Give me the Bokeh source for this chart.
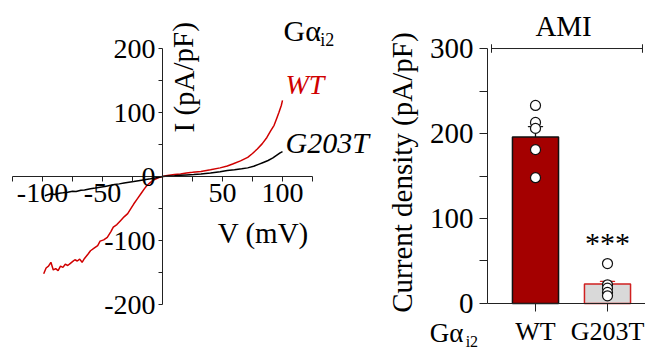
from bokeh.plotting import figure
from bokeh.layouts import row
from bokeh.models import FixedTicker, ColumnDataSource
from bokeh.core.properties import value
from bokeh.embed import file_html
from bokeh.resources import INLINE

FONT = "Liberation Serif"

# ---------------- data: I-V curves ----------------
wt_v = [-99, -97, -95, -93, -91, -89, -87, -85, -83, -81, -79, -77, -75, -73, -71, -69, -67,
        -65, -62, -60, -57, -54, -52, -49, -46, -43, -41, -38, -35, -32, -29, -26, -24, -21,
        -18, -15, -13, -10, -7, -4, -2, 0, 4, 10, 15, 20, 25, 32, 40, 48, 54, 59, 65, 71, 75,
        79, 83, 87, 90, 93, 95, 97, 99, 100]
wt_i = [-152, -143, -140, -134, -146, -144, -147, -140, -142, -137, -139, -136, -133, -130, -132, -129, -134,
        -128, -121, -116, -112, -108, -101, -99, -95, -86, -79, -75, -69, -63, -58, -49, -43, -35,
        -27, -19, -14, -9, -5, -2.5, -1, 0, 1.5, 3, 4, 5.5, 6.5, 8, 10.5, 13.5, 16.5, 20, 24.5, 30, 36,
        43, 51, 61, 71, 80, 90, 100, 111, 119]

g_v = [-98, -95, -93, -90, -86, -83, -79, -75, -72, -68, -65, -60, -56, -52, -48, -44, -40, -36,
       -32, -28, -24, -20, -15, -10, -5, 0, 5, 10, 15, 20, 26, 32, 40, 48, 54, 60, 66, 71, 76,
       80, 84, 88, 92, 95, 98, 100]
g_i = [-30, -28, -27, -28, -26, -25.5, -24.5, -23, -23.5, -21.5, -21, -19, -18, -16.7, -15.5, -14, -12.5, -11.5,
       -10, -8.8, -7.8, -6.5, -5, -3.6, -1.8, 0, 0.7, 1.3, 2, 2.5, 3, 4, 5.5, 7.5, 9.4, 10.5, 12, 13.5, 16,
       19, 22, 25, 29, 33, 37, 39]

iv_x_ticks = [-100, -50, 50, 100]
iv_x_minor = [-125, -75, -25, 0, 25, 75, 125]
iv_x_labels = ["-100", "-50", "50", "100"]
iv_y_ticks = [-200, -100, 0, 100, 200]
iv_y_minor = [-150, -50, 50, 150]
iv_y_labels = ["-200", "-100", "0", "100", "200"]

# ---------------- data: current density bars ----------------
categories = ["WT", "G203T"]
cat_x = [1, 2]
means = [196, 23]
sems = [12, 3]
wt_points = [233, 213, 206, 181, 148]
g203t_points = [47, 22, 18, 13, 9]
bar_y_ticks = [0, 100, 200, 300]
bar_y_minor = [50, 150, 250]
bar_y_labels = ["0", "100", "200", "300"]

RED = "#d00000"
DARKRED = "#a40000"

# ======================= left panel =======================
p1 = figure(width=375, height=351, x_range=(-135, 177.5), y_range=(-273.4, 275),
            output_backend="svg", toolbar_location=None, min_border=0)
p1.outline_line_color = None
p1.grid.visible = False
p1.background_fill_color = "white"

p1.line(wt_v, wt_i, color=RED, line_width=1.5)
p1.line(g_v, g_i, color="black", line_width=1.5)

for ax in (p1.xaxis[0], p1.yaxis[0]):
    ax.axis_line_color = "#222222"
    ax.axis_line_width = 1
    ax.major_tick_line_color = "#222222"
    ax.minor_tick_line_color = "#222222"
    ax.major_tick_in = 0
    ax.minor_tick_in = 0
    ax.major_label_text_font = FONT
    ax.major_label_text_font_size = "28px"
    ax.major_label_text_color = "black"

xa = p1.xaxis[0]
xa.fixed_location = 0
xa.bounds = (-125, 125)
xa.ticker = FixedTicker(ticks=iv_x_ticks, minor_ticks=iv_x_minor)
xa.major_label_overrides = dict(zip(iv_x_ticks, iv_x_labels))
xa.major_tick_out = 5
xa.minor_tick_out = 5
xa.major_label_standoff = 2

ya = p1.yaxis[0]
ya.fixed_location = 0
ya.bounds = (-200, 200)
ya.ticker = FixedTicker(ticks=iv_y_ticks, minor_ticks=iv_y_minor)
ya.major_label_overrides = dict(zip(iv_y_ticks, iv_y_labels))
ya.major_tick_out = 4
ya.minor_tick_out = 4
ya.major_label_standoff = 3

# texts of left panel
p1.text(x=[17.5], y=[155], text=["I (pA/pF)"], angle=1.5708, text_align="center",
        text_baseline="middle", text_font=value(FONT), text_font_size="29px", text_color="black")
p1.text(x=[84], y=[-89], text=["V (mV)"], text_align="center", text_baseline="middle",
        text_font=value(FONT), text_font_size="29px", text_color="black")
p1.text(x=[100.8], y=[228], text=["Gα"], text_align="left", text_baseline="middle",
        text_font=value(FONT), text_font_size="30px", text_color="black")
p1.text(x=[131.5], y=[213], text=["i2"], text_align="left", text_baseline="middle",
        text_font=value(FONT), text_font_size="18px", text_color="black")
p1.text(x=[102.5], y=[144], text=["WT"], text_align="left", text_baseline="middle",
        text_font=value(FONT), text_font_style="italic", text_font_size="28px", text_color=RED)
p1.text(x=[102.5], y=[53], text=["G203T"], text_align="left", text_baseline="middle",
        text_font=value(FONT), text_font_style="italic", text_font_size="30px", text_color="black")

# ======================= right panel =======================
p2 = figure(width=270, height=351, x_range=(-1.2222, 2.5278), y_range=(-56.5, 356.5),
            output_backend="svg", toolbar_location=None, min_border=0)
p2.outline_line_color = None
p2.grid.visible = False
p2.background_fill_color = "white"

bar_src = ColumnDataSource(dict(x=cat_x, top=means, cat=categories,
                                fill=[DARKRED, "#d9d9d9"], line=["#111111", "#d02020"],
                                up=[m + s for m, s in zip(means, sems)]))
p2.segment(x0="x", y0="top", x1="x", y1="up", source=bar_src, line_color="line", line_width=1.3)
p2.rect(x="x", y="up", width=0.2, height=0.01, source=bar_src, line_color="line", line_width=1.3)
p2.vbar(x="x", top="top", bottom=0, width=0.64, source=bar_src, fill_color="fill",
        line_color="line", line_width=1.5)

pts_x = [cat_x[0]] * len(wt_points) + [cat_x[1]] * len(g203t_points)
pts_y = wt_points + g203t_points
p2.scatter(pts_x, pts_y, size=10, fill_color="white", line_color="#111111", line_width=1.2)

xb = p2.xaxis[0]
xb.fixed_location = 0
xb.bounds = (0.3333, 2.5278)
xb.ticker = FixedTicker(ticks=cat_x)
xb.major_label_overrides = dict(zip(cat_x, categories))
xb.major_label_text_font = FONT
xb.major_label_text_font_size = "26px"
xb.major_label_text_color = "black"
xb.major_label_standoff = 6
xb.major_tick_in = 0
xb.major_tick_out = 8
xb.minor_tick_line_color = None
xb.axis_line_color = "#222222"
xb.major_tick_line_color = "#222222"

yb = p2.yaxis[0]
yb.fixed_location = 0.3333
yb.bounds = (0, 300)
yb.ticker = FixedTicker(ticks=bar_y_ticks, minor_ticks=bar_y_minor)
yb.major_label_overrides = dict(zip(bar_y_ticks, bar_y_labels))
yb.major_label_text_font = FONT
yb.major_label_text_font_size = "29px"
yb.major_label_text_color = "black"
yb.major_tick_in = 0
yb.minor_tick_in = 0
yb.major_tick_out = 8
yb.minor_tick_out = 8
yb.major_label_standoff = 6
yb.axis_line_color = "#222222"
yb.major_tick_line_color = "#222222"
yb.minor_tick_line_color = "#222222"

# bracket + AMI
p2.segment(x0=[0.389], y0=[300], x1=[2.486], y1=[300], line_color="#222222", line_width=1)
p2.segment(x0=[0.389, 2.486], y0=[295, 295], x1=[0.389, 2.486], y1=[305, 305],
           line_color="#222222", line_width=1)
p2.text(x=[1.39], y=[327], text=["AMI"], text_align="center", text_baseline="middle",
        text_font=value(FONT), text_font_size="29px", text_color="black")

# significance
p2.text(x=[2], y=[72], text=["***"], text_align="center", text_baseline="middle",
        text_font=value(FONT), text_font_size="30px", text_color="black")

# G alpha i2 row label
p2.text(x=[0.0], y=[-35], text=["Gα"], text_align="right", text_baseline="middle",
        text_font=value(FONT), text_font_size="27px", text_color="black")
p2.text(x=[0.03], y=[-44.5], text=["i2"], text_align="left", text_baseline="middle",
        text_font=value(FONT), text_font_size="16px", text_color="black")

# y label
p2.text(x=[-0.861], y=[154], text=["Current density (pA/pF)"], angle=1.5708, text_align="center",
        text_baseline="middle", text_font=value(FONT), text_font_size="29px", text_color="black")

layout = row(p1, p2)
open("out.html", "w").write(file_html(layout, INLINE))
